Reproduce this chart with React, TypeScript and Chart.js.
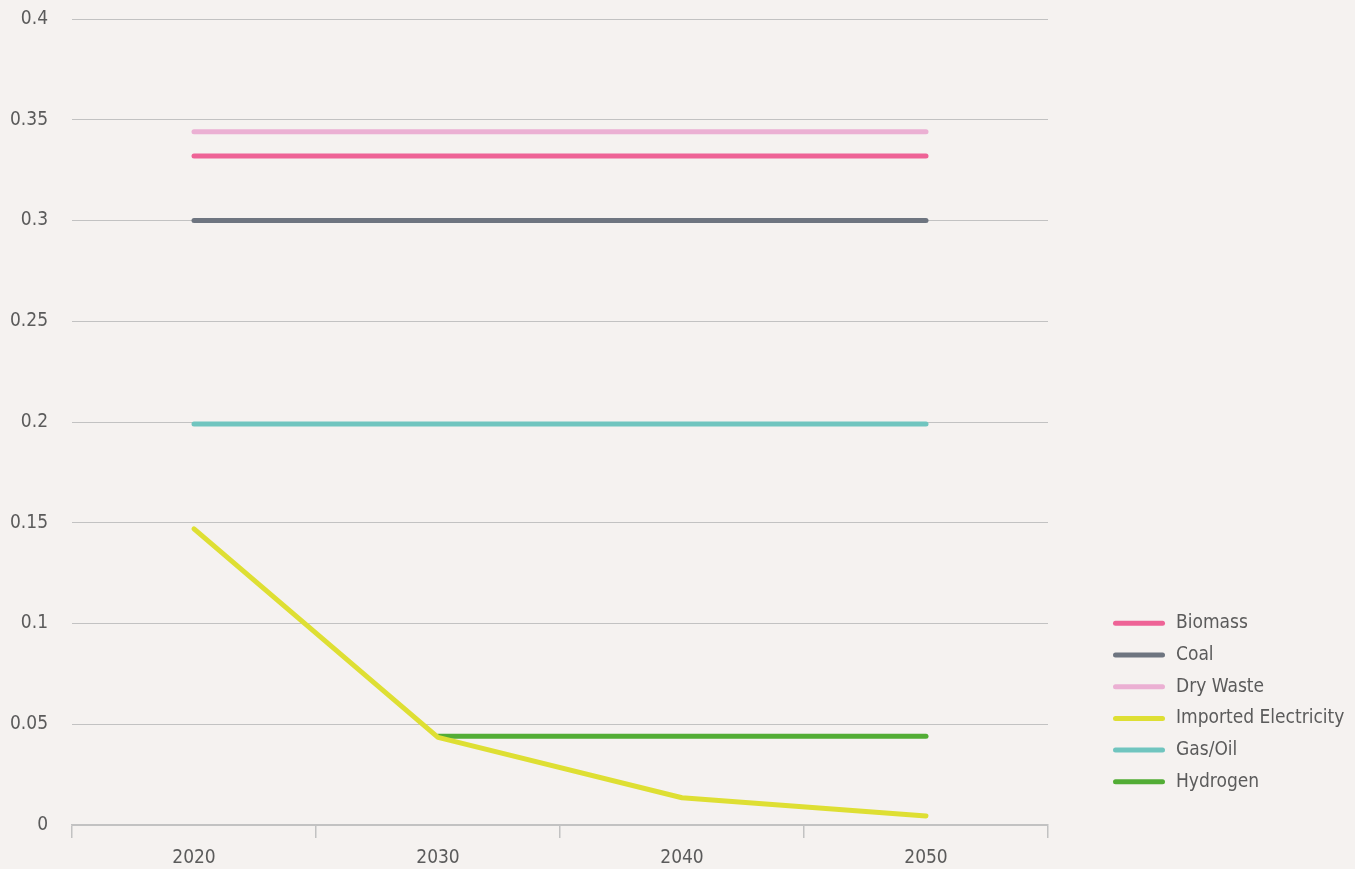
import { useEffect, useRef } from 'react';
import { Chart, registerables } from 'chart.js';

Chart.register(...registerables);

const years = ['2020', '2030', '2040', '2050'];
const seriesNames = ['Biomass', 'Coal', 'Dry Waste', 'Imported Electricity', 'Gas/Oil', 'Hydrogen'];
const seriesColors = ['#ee6396', '#6e7580', '#ebb0d3', '#dedf33', '#70c5bf', '#52ad35'];
const biomass = [0.332, 0.332, 0.332, 0.332];
const coal = [0.3, 0.3, 0.3, 0.3];
const dryWaste = [0.344, 0.344, 0.344, 0.344];
const importedElectricity = [0.147, 0.0435, 0.0135, 0.0045];
const gasOil = [0.199, 0.199, 0.199, 0.199];
const hydrogen = [null, 0.044, 0.044, 0.044];
const yTickLabels = ['0', '0.05', '0.1', '0.15', '0.2', '0.25', '0.3', '0.35', '0.4'];

const FONT = "'Liberation Sans Narrow', 'DejaVu Sans Condensed', 'Roboto', sans-serif";
const FONT_SIZE = 19;
const TEXT_COLOR = '#5b5b5b';
const GRID_COLOR = '#c2c2c2';

const sideLegend = {
  id: 'sideLegend',
  afterDraw(chart: any) {
    const ctx = chart.ctx;
    const area = chart.chartArea;
    const x0 = area.right + 67.5;
    const lineLen = 47;
    const top = 623.3;
    const step = 31.7;
    ctx.save();
    chart.data.datasets.forEach((ds: any, i: number) => {
      const y = top + i * step;
      ctx.beginPath();
      ctx.strokeStyle = ds.borderColor;
      ctx.lineWidth = 5;
      ctx.lineCap = 'round';
      ctx.moveTo(x0, y);
      ctx.lineTo(x0 + lineLen, y);
      ctx.stroke();
      ctx.fillStyle = TEXT_COLOR;
      ctx.font = `${FONT_SIZE}px ${FONT}`;
      ctx.textBaseline = 'middle';
      ctx.textAlign = 'left';
      ctx.fillText(ds.label, x0 + 60.5, y);
    });
    ctx.restore();
  },
};

export default function App() {
  const canvasRef = useRef<HTMLCanvasElement | null>(null);

  useEffect(() => {
    const canvas = canvasRef.current;
    if (!canvas) return;
    const values = [biomass, coal, dryWaste, importedElectricity, gasOil, hydrogen];
    const chart = new Chart(canvas, {
      type: 'line',
      data: {
        labels: years,
        datasets: seriesNames.map((name, i) => ({
          label: name,
          data: values[i] as any,
          borderColor: seriesColors[i],
          backgroundColor: seriesColors[i],
          borderWidth: 5,
          borderCapStyle: 'round',
          borderJoinStyle: 'round',
          pointRadius: 0,
          pointHoverRadius: 0,
          tension: 0,
          fill: false,
        })),
      },
      options: {
        animation: false,
        responsive: true,
        maintainAspectRatio: false,
        layout: { padding: { top: 19, right: 307, bottom: 0, left: 0 } },
        plugins: {
          legend: { display: false },
          tooltip: { enabled: false },
        },
        scales: {
          x: {
            type: 'category',
            offset: true,
            afterFit: (s: any) => {
              s.height = 44;
              s.paddingLeft = 0;
              s.paddingRight = 0;
            },
            grid: {
              display: true,
              drawOnChartArea: false,
              drawTicks: true,
              tickLength: 13,
              color: GRID_COLOR,
              lineWidth: 1.5,
              offset: true,
            },
            border: { display: true, color: GRID_COLOR, width: 1.5 },
            ticks: {
              color: TEXT_COLOR,
              font: { family: FONT, size: FONT_SIZE },
              padding: 9,
              maxRotation: 0,
            },
          },
          y: {
            min: 0,
            max: 0.4,
            afterFit: (s: any) => {
              s.width = 72;
              s.paddingTop = 0;
              s.paddingBottom = 0;
            },
            grid: { color: GRID_COLOR, lineWidth: 1, drawTicks: false },
            border: { display: false },
            ticks: {
              stepSize: 0.05,
              color: TEXT_COLOR,
              font: { family: FONT, size: FONT_SIZE },
              padding: 24,
              callback: (_v: any, i: number) => yTickLabels[i],
            },
          },
        },
      },
      plugins: [sideLegend],
    });
    return () => chart.destroy();
  }, []);

  return (
    <div
      style={{
        position: 'fixed',
        left: 0,
        top: 0,
        width: 1355,
        height: 869,
        background: '#f5f2f0',
        overflow: 'hidden',
      }}
    >
      <canvas ref={canvasRef} />
    </div>
  );
}
